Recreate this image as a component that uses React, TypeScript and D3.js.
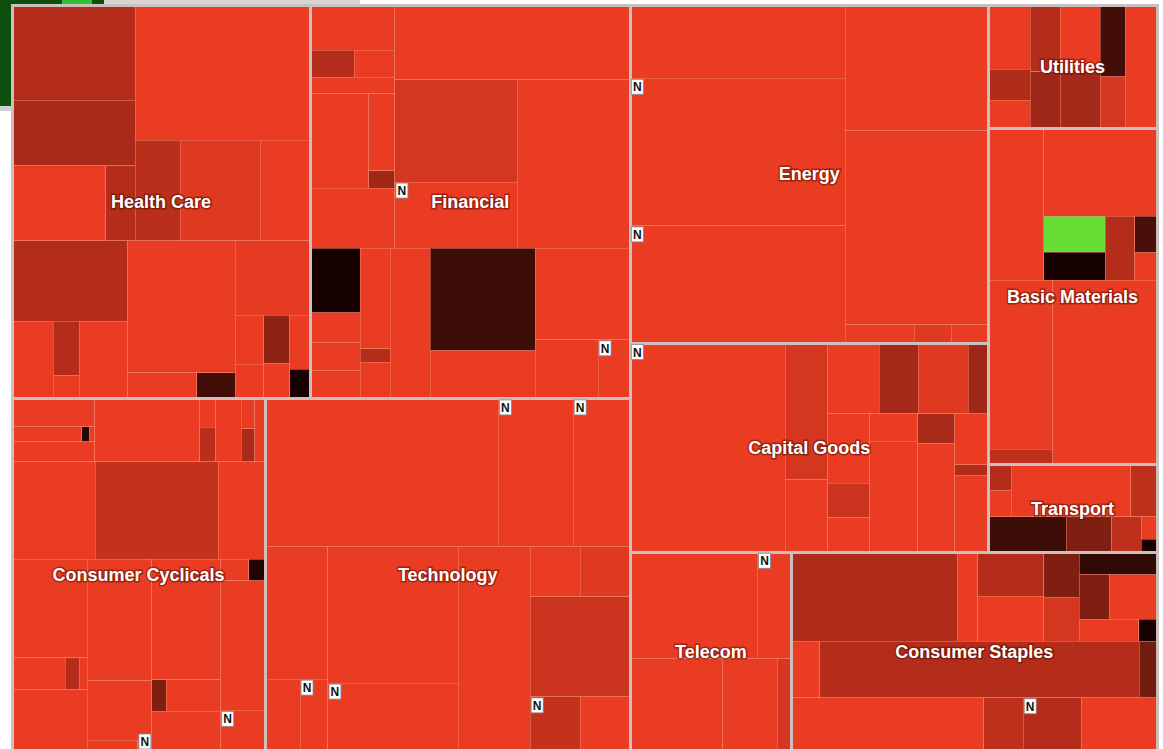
import * as d3 from "d3";
import React from "react";

// stock: [market cap, % change, news flag]; group: optional "h"/"v" split, then children
type Item = any[];

const healthCare: Item = ["v",
  ["h",
    ["v", [11.7, -3.0], [8.0, -2.8], ["h", [7.0, -4], [2.2, -3.0]]],
    ["v", [23.6, -4], ["h", [4.5, -3.1], [8.0, -3.8], [5.0, -4]]]],
  ["h",
    ["v", [9.3, -3.0], ["h", [3.2, -4], ["v", [1.4, -3.0], [0.6, -4]], [3.8, -4]]],
    ["v", [14.1, -4], ["h", [1.8, -4], [1.0, -0.9]]],
    ["v", [5.6, -3.9],
      ["h", ["v", [1.4, -4], [1.0, -4]], ["v", [1.25, -2.3], [0.9, -4]], ["v", [1.1, -4], [0.6, -0.1]]]]],
];
const financial: Item = ["v",
  ["h",
    ["v", [3.8, -4], ["h", [1.2, -3.0], [1.1, -4]], [1.4, -4],
      ["h", [5.5, -4], ["v", [2.0, -4], [0.45, -2.6]]], [5.1, -4]],
    ["v", [17.5, -4], ["h", ["v", [12.5, -3.6], [8.1, -4, 1]], [19.0, -4]]]],
  ["h",
    ["v", [3.2, -0.1], [1.5, -4], [1.4, -4], [1.4, -4]],
    ["v", [3.0, -4], [0.4, -3.0], [1.1, -4]],
    [6.0, -4],
    ["v", [10.7, -0.8], [5.05, -4]],
    ["v", [8.65, -4], ["h", [3.7, -4], [1.9, -4, 1]]]],
];
const energy: Item = ["h",
  ["v", [15.7, -4], [31.6, -4, 1], [25.2, -4, 1]],
  ["v", [17.9, -4], [27.6, -4], ["h", [1.3, -4], [0.7, -3.8], [0.7, -4]]],
];
const utilities: Item = ["h",
  ["v", [2.7, -4], [1.3, -2.9], [1.2, -4]],
  ["v", [2.0, -3.0], [1.7, -2.6]],
  ["v", [2.6, -4], [2.3, -2.7]],
  ["v", [1.8, -0.9], [1.3, -3.6]],
  [3.9, -4],
];
const basicMaterials: Item = ["v",
  ["h",
    [8.4, -4],
    ["v", [9.9, -4],
      ["h", ["v", [2.2, 4], [1.7, -0.1]], [1.9, -3.0], ["v", [0.8, -1.0], [0.6, -4]]]]],
  ["h", ["v", [10.9, -4], [1.0, -3.2]], [19.2, -4]],
];
const transport: Item = ["v",
  ["h", ["v", [0.6, -3.0], [0.6, -4]], [6.2, -4], [1.35, -3.2]],
  ["h", [2.75, -0.8], [1.6, -2.0], [1.05, -3.2], ["v", [0.35, -4], [0.2, -0.1]]],
];
const capitalGoods: Item = ["h",
  [32.2, -4, 1],
  ["v", [5.8, -3.6], [3.1, -4]],
  ["v",
    ["h", [3.6, -4], [2.7, -2.7], [3.5, -3.8], [1.4, -2.6]],
    ["h",
      ["v", [2.9, -4], [1.45, -3.4], [1.45, -4]],
      ["v", [1.3, -4], [5.3, -4]],
      ["v", [1.1, -2.8], [4.0, -4]],
      ["v", [1.7, -4], [0.35, -3.0], [2.55, -4]]]],
];
const consumerCyclicals: Item = ["v",
  ["h",
    ["v", [2.3, -4], ["h", [1.05, -4], [0.12, -0.4], [0.08, -4]], [1.65, -4]],
    ["h", [6.6, -4], ["v", [0.45, -4], [0.55, -3.1]], [1.6, -4], ["v", [0.4, -4], [0.45, -2.8]], [0.65, -4]]],
  ["h", [8.05, -4], [11.9, -3.3], [4.55, -4]],
  ["h",
    ["v", [7.4, -4], ["h", [1.7, -4], [0.45, -3.0], [0.25, -4]], [4.6, -4]],
    ["v", [7.8, -4], [3.8, -4], ["h", [0.55, -4], [0.15, -4, 1]]],
    ["v", [8.3, -4], ["h", [0.45, -2.0], [1.7, -4]], [2.75, -4]],
    ["v", ["h", [0.6, -4], [0.35, -0.3]], [5.75, -4], [1.8, -4, 1]]],
];
const technology: Item = ["v",
  ["h", [34.3, -4], [11.0, -4, 1], [8.4, -4, 1]],
  ["h",
    ["v", [8.3, -4], ["h", [2.5, -4], [2.0, -4, 1]]],
    ["v", [17.7, -4], [8.8, -4, 1]],
    [14.7, -4],
    ["v", ["h", [2.5, -4], [2.5, -3.8]], [10.0, -3.4], ["h", [2.7, -3.3, 1], [2.7, -4]]]],
];
const telecom: Item = ["v",
  ["h", [13.5, -4], [3.6, -4, 1]],
  ["h", [8.5, -4], [5.0, -4], [1.3, -3.6]],
];
const consumerStaples: Item = ["v",
  ["h",
    [14.7, -2.9],
    [1.8, -4],
    ["v", [2.9, -3.0], [2.95, -4]],
    ["v", [1.6, -2.0], [1.55, -3.6]],
    ["v", [1.75, -0.6], ["h", [1.35, -2.0], [2.1, -4]], ["h", [1.3, -4], [0.4, -0.1]]]],
  ["h", [1.6, -4], [18.0, -3.0], [1.0, -1.8]],
  ["h", [10.2, -4], [2.1, -3.2], [3.1, -3.0, 1], [4.0, -4]],
];

const W = 1145;
const H = 746;
const left = 12;
const top = 5;

interface TNode {
  name: string;
  split?: string;
  sector?: boolean;
  cap?: number;
  chg?: number;
  news?: boolean;
  children?: TNode[];
}

const build = (item: Item, id: string): TNode => {
  if (typeof item[0] === "number") {
    return { name: id, cap: item[0], chg: item[1], news: !!item[2] };
  }
  const split = typeof item[0] === "string" ? item[0] : undefined;
  const kids = split ? item.slice(1) : item;
  return { name: id, split, children: kids.map((k: Item, i: number) => build(k, `${id}.${i}`)) };
};

const sector = (name: string, items: Item): TNode => ({ ...build(items, name), name, sector: true });

const tree: TNode = {
  name: "market",
  split: "h",
  children: [
    {
      name: "west",
      split: "v",
      children: [
        { name: "nw", split: "h", children: [sector("Health Care", healthCare), sector("Financial", financial)] },
        { name: "sw", split: "h", children: [sector("Consumer Cyclicals", consumerCyclicals), sector("Technology", technology)] },
      ],
    },
    {
      name: "east",
      split: "v",
      children: [
        {
          name: "ne",
          split: "h",
          children: [
            { name: "ne1", split: "v", children: [sector("Energy", energy), sector("Capital Goods", capitalGoods)] },
            {
              name: "ne2",
              split: "v",
              children: [
                sector("Utilities", utilities),
                sector("Basic Materials", basicMaterials),
                sector("Transport", transport),
              ],
            },
          ],
        },
        { name: "se", split: "h", children: [sector("Telecom", telecom), sector("Consumer Staples", consumerStaples)] },
      ],
    },
  ],
};

// "h" = side by side, "v" = stacked, otherwise split along the longer side
const tile = (node: any, x0: number, y0: number, x1: number, y1: number) => {
  const s = node.data.split || (x1 - x0 >= y1 - y0 ? "h" : "v");
  if (s === "h") d3.treemapDice(node, x0, y0, x1, y1);
  else d3.treemapSlice(node, x0, y0, x1, y1);
};

const color = d3
  .scaleLinear<string>()
  .domain([-4, 0, 4])
  .range(["#ea3c23", "#120100", "#66de36"])
  .clamp(true);

export default function App() {
  const root = d3.hierarchy<TNode>(tree).sum((d) => d.cap ?? 0);
  d3.treemap<TNode>().tile(tile).size([W, H])(root);
  const rect = root as d3.HierarchyRectangularNode<TNode>;
  const leaves = rect.leaves();
  const sectors = rect.descendants().filter((d) => d.data.sector);

  return (
    <svg
      width={1163}
      height={749}
      style={{ position: "absolute", left: 0, top: 0, background: "#fff" }}
    >
      {/* bits of the window chrome behind the map */}
      <rect x={0} y={0} width={12} height={106} fill="#0d4f0d" />
      <rect x={12} y={0} width={92} height={5} fill="#0d4f0d" />
      <rect x={62} y={0} width={30} height={5} fill="#33c033" />
      <rect x={104} y={0} width={256} height={5} fill="#d6d6d6" />
      <rect x={0} y={106} width={12} height={5} fill="#d0d0d0" />

      <g transform={`translate(${left},${top})`}>
        <g shapeRendering="crispEdges">
          {leaves.map((d) => (
            <rect
              key={d.data.name}
              x={d.x0}
              y={d.y0}
              width={d.x1 - d.x0}
              height={d.y1 - d.y0}
              fill={color(d.data.chg ?? 0)}
              stroke="#f4836c"
              strokeOpacity={0.5}
              strokeWidth={1}
            />
          ))}
          {sectors.map((d) => (
            <rect
              key={d.data.name}
              x={d.x0}
              y={d.y0}
              width={d.x1 - d.x0}
              height={d.y1 - d.y0}
              fill="none"
              stroke="#cdbfbd"
              strokeWidth={3}
            />
          ))}
        </g>
        {sectors.map((d) => (
          <text
            key={d.data.name}
            x={(d.x0 + d.x1) / 2}
            y={(d.y0 + d.y1) / 2}
            textAnchor="middle"
            dominantBaseline="central"
            fontFamily="'Liberation Sans', Arial, sans-serif"
            fontWeight="bold"
            fontSize={18}
            fill="#fff"
            stroke="rgba(90,10,0,0.5)"
            strokeWidth={3}
            style={{ paintOrder: "stroke" }}
          >
            {d.data.name}
          </text>
        ))}
        {leaves
          .filter((d) => d.data.news)
          .map((d) => (
            <g
              key={d.data.name}
              transform={`translate(${d.x0 + 1},${Math.min(d.y0 + 1, H - 17)})`}
            >
              <rect width={12} height={15} fill="#fff" stroke="#888" strokeWidth={0.8} />
              <text
                x={6}
                y={12}
                textAnchor="middle"
                fontFamily="'Liberation Sans', Arial, sans-serif"
                fontWeight="bold"
                fontSize={12}
                fill="#111"
              >
                N
              </text>
            </g>
          ))}
      </g>
    </svg>
  );
}
